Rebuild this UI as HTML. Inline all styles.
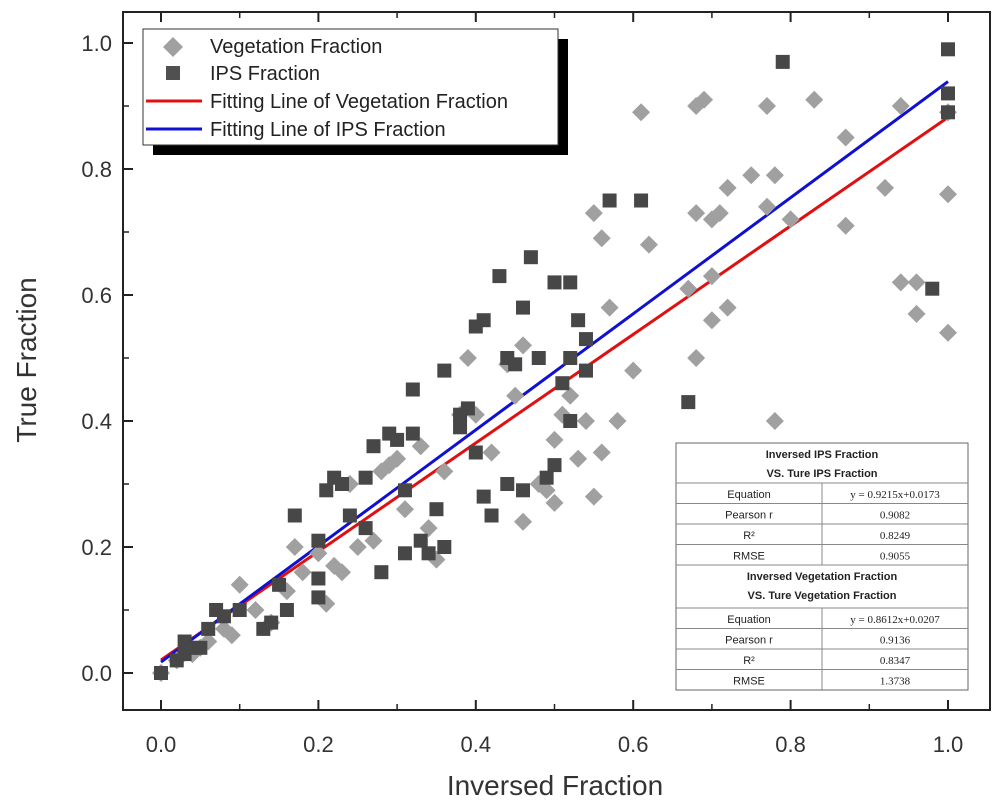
<!DOCTYPE html>
<html><head><meta charset="utf-8"><style>
html,body{margin:0;padding:0;background:#fff;}
svg{display:block;font-family:"Liberation Sans",sans-serif;}
</style></head><body>
<svg id="chart" width="999" height="805" viewBox="0 0 999 805">
<g id="axes"></g>
<g id="lines"></g>
<g id="pts"></g>
<g id="legend">
  <rect x="153" y="39" width="415" height="116" fill="#000"/>
  <rect x="143" y="29" width="415" height="116" fill="#fff" stroke="#333" stroke-width="1"/>
  <path d="M163,47 l10,-10 l10,10 l-10,10z" fill="#a0a0a0"/>
  <text x="210" y="53" font-size="20" fill="#222">Vegetation Fraction</text>
  <rect x="166" y="66" width="14" height="14" fill="#505050"/>
  <text x="210" y="80" font-size="20" fill="#222">IPS Fraction</text>
  <line x1="146" y1="101" x2="202" y2="101" stroke="#e01010" stroke-width="3"/>
  <text x="210" y="108" font-size="20" fill="#222">Fitting Line of Vegetation Fraction</text>
  <line x1="146" y1="129" x2="202" y2="129" stroke="#1010d0" stroke-width="3"/>
  <text x="210" y="136" font-size="20" fill="#222">Fitting Line of IPS Fraction</text>
</g>
<g id="table" font-size="11" fill="#222"></g>
<text x="555" y="795" font-size="28" text-anchor="middle" fill="#333">Inversed Fraction</text>
<text transform="translate(36,360) rotate(-90)" font-size="28" text-anchor="middle" fill="#333">True Fraction</text>
</svg>
<script>
const vegX=[0,0.02,0.04,0.05,0.06,0.08,0.09,0.1,0.12,0.14,0.16,0.17,0.18,0.2,0.21,0.22,0.23,0.24,0.25,0.27,0.28,0.29,0.3,0.31,0.33,0.34,0.35,0.36,0.38,0.39,0.4,0.42,0.44,0.45,0.46,0.46,0.48,0.49,0.5,0.5,0.51,0.52,0.53,0.54,0.55,0.55,0.56,0.56,0.57,0.58,0.6,0.61,0.62,0.67,0.68,0.68,0.68,0.69,0.7,0.7,0.7,0.71,0.72,0.72,0.75,0.77,0.77,0.78,0.78,0.8,0.83,0.87,0.87,0.92,0.94,0.94,0.96,0.96,1.0,1.0,1.0];
const vegY=[0,0.02,0.03,0.04,0.05,0.07,0.06,0.14,0.1,0.08,0.13,0.2,0.16,0.19,0.11,0.17,0.16,0.3,0.2,0.21,0.32,0.33,0.34,0.26,0.36,0.23,0.18,0.32,0.41,0.5,0.41,0.35,0.49,0.44,0.52,0.24,0.3,0.29,0.37,0.27,0.41,0.44,0.34,0.4,0.73,0.28,0.35,0.69,0.58,0.4,0.48,0.89,0.68,0.61,0.73,0.5,0.9,0.91,0.63,0.56,0.72,0.73,0.58,0.77,0.79,0.74,0.9,0.79,0.4,0.72,0.91,0.71,0.85,0.77,0.62,0.9,0.57,0.62,0.54,0.76,0.89];
const ipsX=[0,0.02,0.03,0.03,0.04,0.05,0.06,0.07,0.08,0.1,0.13,0.14,0.15,0.16,0.17,0.2,0.2,0.2,0.21,0.22,0.23,0.24,0.26,0.26,0.27,0.28,0.29,0.3,0.31,0.31,0.32,0.32,0.33,0.34,0.35,0.36,0.36,0.38,0.38,0.39,0.4,0.4,0.41,0.41,0.42,0.43,0.44,0.44,0.45,0.46,0.46,0.47,0.48,0.49,0.5,0.5,0.51,0.52,0.52,0.52,0.53,0.54,0.54,0.57,0.61,0.67,0.79,0.98,1.0,1.0,1.0];
const ipsY=[0,0.02,0.03,0.05,0.04,0.04,0.07,0.1,0.09,0.1,0.07,0.08,0.14,0.1,0.25,0.15,0.12,0.21,0.29,0.31,0.3,0.25,0.23,0.31,0.36,0.16,0.38,0.37,0.29,0.19,0.45,0.38,0.21,0.19,0.26,0.2,0.48,0.41,0.39,0.42,0.55,0.35,0.56,0.28,0.25,0.63,0.3,0.5,0.49,0.29,0.58,0.66,0.5,0.31,0.62,0.33,0.46,0.62,0.5,0.4,0.56,0.48,0.53,0.75,0.75,0.43,0.97,0.61,0.99,0.92,0.89];
const fitSlope=[0.8612,0.9215];
const fitIntercept=[0.0207,0.0173];
const fitColors=['#e01010','#1010d0'];
const ticks=[0,0.2,0.4,0.6,0.8,1.0];
const tickLabels=['0.0','0.2','0.4','0.6','0.8','1.0'];
const minorTicks=[0.1,0.3,0.5,0.7,0.9];
const tableRows=[['Equation','y = 0.9215x+0.0173'],['Pearson r','0.9082'],['R²','0.8249'],['RMSE','0.9055']];
const tableRows2=[['Equation','y = 0.8612x+0.0207'],['Pearson r','0.9136'],['R²','0.8347'],['RMSE','1.3738']];

const NS='http://www.w3.org/2000/svg';
const X=v=>161+787*v, Y=v=>673-630*v;
function mk(p,t,a){const e=document.createElementNS(NS,t);for(const k in a)e.setAttribute(k,a[k]);p.appendChild(e);return e;}
const ax=document.getElementById('axes');
const frame=mk(ax,'rect',{x:123,y:12,width:867,height:698,fill:'none',stroke:'#222','stroke-width':2});


ticks.forEach((t,i)=>{
  const lx=mk(ax,'line',{x1:X(t),x2:X(t),y1:710,y2:700,stroke:'#222','stroke-width':2});
  
  
  const lt=mk(ax,'line',{x1:X(t),x2:X(t),y1:12,y2:22,stroke:'#222','stroke-width':2});
  
  
  const ly=mk(ax,'line',{x1:123,x2:133,y1:Y(t),y2:Y(t),stroke:'#222','stroke-width':2});
  
  
  const tx=mk(ax,'text',{x:X(t),y:752,'font-size':22,'text-anchor':'middle',fill:'#333'});tx.textContent=tickLabels[i];
  
  
  const ty=mk(ax,'text',{x:112,y:Y(t)+8,'font-size':22,'text-anchor':'end',fill:'#333'});ty.textContent=tickLabels[i];
  
  
});
minorTicks.forEach(t=>{
  const a=mk(ax,'line',{x1:X(t),x2:X(t),y1:710,y2:704,stroke:'#222','stroke-width':1.5});
  
  
  const c=mk(ax,'line',{x1:X(t),x2:X(t),y1:12,y2:18,stroke:'#222','stroke-width':1.5});
  
  
  const b=mk(ax,'line',{x1:123,x2:129,y1:Y(t),y2:Y(t),stroke:'#222','stroke-width':1.5});
  
  
});
const pts=document.getElementById('pts');
vegX.forEach((x,i)=>{const cx=X(x),cy=Y(vegY[i]);
  const d=mk(pts,'path',{d:`M${cx-9},${cy} L${cx},${cy-9} L${cx+9},${cy} L${cx},${cy+9}Z`,fill:'#a0a0a0'});
  
  });
ipsX.forEach((x,i)=>{const cx=X(x),cy=Y(ipsY[i]);
  const r=mk(pts,'rect',{x:cx-7,y:cy-7,width:14,height:14,fill:'#474747'});
  
  });
const ln=document.getElementById('lines');
fitSlope.forEach((m,i)=>{
  const l=mk(ln,'line',{x1:X(0),y1:Y(fitIntercept[i]),x2:X(1),y2:Y(m+fitIntercept[i]),stroke:fitColors[i],'stroke-width':3});
  
  
});
// table
const tb=document.getElementById('table');
const tx0=676,tx1=968,tmid=822;
mk(tb,'rect',{x:tx0,y:443,width:tx1-tx0,height:247,fill:'#fff',stroke:'#666','stroke-width':1});
function hdr(y,l1,l2){
  const a=mk(tb,'text',{x:(tx0+tx1)/2,y:y+15,'text-anchor':'middle','font-weight':'bold'});a.textContent=l1;
  
  
  const b=mk(tb,'text',{x:(tx0+tx1)/2,y:y+34,'text-anchor':'middle','font-weight':'bold'});b.textContent=l2;
  
  
}
function rows(y0,rs){
  rs.forEach((r,i)=>{const y=y0+i*20.5;
    mk(tb,'line',{x1:tx0,x2:tx1,y1:y,y2:y,stroke:'#888','stroke-width':1});
    mk(tb,'line',{x1:tmid,x2:tmid,y1:y,y2:y+20.5,stroke:'#888','stroke-width':1});
    const a=mk(tb,'text',{x:(tx0+tmid)/2,y:y+15,'text-anchor':'middle','font-family':'Liberation Sans'});a.textContent=r[0];
    
    
    const b=mk(tb,'text',{x:(tmid+tx1)/2,y:y+15,'text-anchor':'middle','font-family':'Liberation Serif'});b.textContent=r[1];
    
    
  });
}
hdr(443,'Inversed IPS Fraction','VS. Ture IPS Fraction');
rows(483,tableRows);
mk(tb,'line',{x1:tx0,x2:tx1,y1:565,y2:565,stroke:'#888','stroke-width':1});
hdr(565,'Inversed Vegetation Fraction','VS. Ture Vegetation Fraction');
rows(608,tableRows2);
</script>
</body></html>
